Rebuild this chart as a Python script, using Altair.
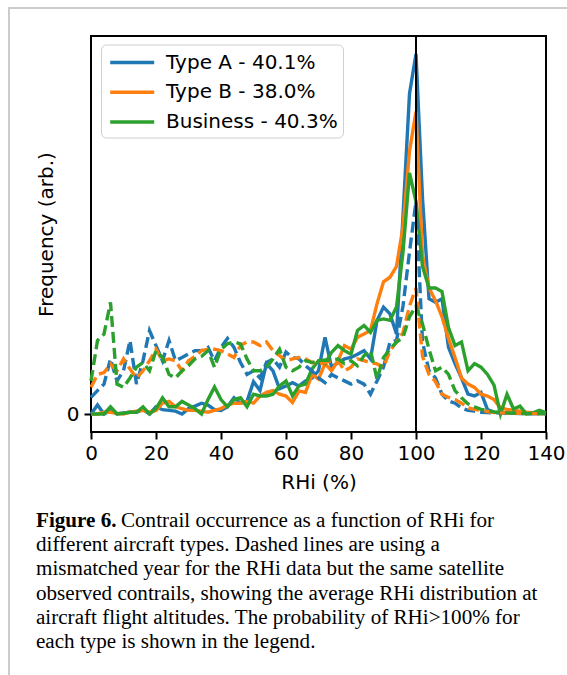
import altair as alt
import pandas as pd

# ---------------- data ----------------
rhi = list(range(0, 141, 2))
series_labels = ["Type A - 40.1%", "Type B - 38.0%", "Business - 40.3%"]
series_colors = ["#1f77b4", "#ff7f0e", "#2ca02c"]

type_a = [0.0, 0.025, 0.0, 0.01, 0.0, 0.003, 0.005, 0.005, 0.012, 0.0,
          0.02, 0.012, 0.01, 0.008, 0.0, 0.015, 0.022, 0.03, 0.025, 0.012,
          0.01, 0.02, 0.045, 0.03, 0.035, 0.09, 0.065, 0.14, 0.12, 0.07,
          0.078, 0.087, 0.078, 0.092, 0.1, 0.12, 0.213, 0.13, 0.143, 0.153,
          0.157, 0.166, 0.176, 0.153, 0.26, 0.297, 0.278, 0.222, 0.55, 0.89,
          1.0, 0.6, 0.32, 0.31, 0.32, 0.185, 0.14, 0.1, 0.055, 0.05,
          0.06, 0.012, 0.005, 0.004, 0.003, 0.002, 0.002, 0.001, 0.001, 0.001,
          0.001]
type_b = [0.0, 0.0, 0.005, 0.005, 0.002, 0.0, 0.005, 0.008, 0.01, 0.005,
          0.01, 0.03, 0.035, 0.02, 0.015, 0.01, 0.01, 0.008, 0.005, 0.01,
          0.015, 0.025, 0.03, 0.03, 0.035, 0.03, 0.05, 0.06, 0.065, 0.055,
          0.05, 0.032, 0.064, 0.06, 0.11, 0.097, 0.14, 0.12, 0.148, 0.19,
          0.18, 0.213, 0.222, 0.232, 0.306, 0.367, 0.38, 0.41, 0.52, 0.73,
          0.84, 0.44, 0.35, 0.315, 0.27, 0.21, 0.157, 0.1, 0.083, 0.074,
          0.055, 0.05, 0.04, 0.017, 0.013, 0.01, 0.008, 0.005, 0.003, 0.002,
          0.001]
business = [0.0, 0.0, 0.0, 0.02, 0.0, 0.002, 0.005, 0.005, 0.02, 0.0,
            0.015, 0.045, 0.02, 0.02, 0.035, 0.025, 0.015, 0.0, 0.04, 0.075,
            0.04, 0.02, 0.04, 0.045, 0.02, 0.055, 0.05, 0.05, 0.055, 0.078,
            0.092, 0.05, 0.078, 0.083, 0.125, 0.148, 0.14, 0.171, 0.19, 0.176,
            0.166, 0.232, 0.246, 0.227, 0.26, 0.264, 0.26, 0.297, 0.45, 0.67,
            0.59, 0.41, 0.35, 0.35, 0.34, 0.24, 0.19, 0.2, 0.12, 0.14,
            0.13, 0.11, 0.08, 0.0, 0.055, 0.014, 0.022, 0.0, 0.003, 0.01,
            0.003]
type_a_mismatch = [0.046, 0.065, 0.083, 0.153, 0.092, 0.12, 0.204, 0.083, 0.148, 0.232,
                   0.19, 0.148, 0.204, 0.148, 0.157, 0.167, 0.176, 0.176, 0.185, 0.148,
                   0.185, 0.21, 0.185, 0.143, 0.11, 0.12, 0.1, 0.143, 0.153, 0.13,
                   0.172, 0.157, 0.153, 0.134, 0.12, 0.1, 0.087, 0.11, 0.1, 0.092,
                   0.083, 0.092, 0.083, 0.055, 0.092, 0.13, 0.2, 0.204, 0.3, 0.45,
                   0.59, 0.2, 0.12, 0.1, 0.055, 0.036, 0.03, 0.017, 0.01, 0.008,
                   0.005, 0.004, 0.003, 0.003, 0.002, 0.002, 0.001, 0.001, 0.001, 0.001,
                   0.001]
type_b_mismatch = [0.074, 0.11, 0.115, 0.139, 0.12, 0.153, 0.125, 0.1, 0.12, 0.148,
                   0.18, 0.148, 0.153, 0.148, 0.12, 0.148, 0.16, 0.176, 0.18, 0.18,
                   0.176, 0.167, 0.157, 0.19, 0.2, 0.2, 0.19, 0.2, 0.176, 0.162,
                   0.148, 0.153, 0.157, 0.153, 0.143, 0.139, 0.143, 0.148, 0.148, 0.12,
                   0.13, 0.153, 0.148, 0.143, 0.139, 0.13, 0.176, 0.2, 0.226, 0.3,
                   0.35, 0.16, 0.11, 0.09, 0.055, 0.046, 0.04, 0.03, 0.017, 0.013,
                   0.01, 0.007, 0.004, 0.003, 0.003, 0.002, 0.002, 0.001, 0.001, 0.001,
                   0.001]
business_mismatch = [0.092, 0.204, 0.222, 0.31, 0.083, 0.074, 0.1, 0.13, 0.143, 0.12,
                     0.176, 0.157, 0.11, 0.1, 0.12, 0.134, 0.153, 0.16, 0.176, 0.13,
                     0.18, 0.195, 0.2, 0.195, 0.153, 0.12, 0.12, 0.13, 0.153, 0.18,
                     0.13, 0.12, 0.13, 0.148, 0.143, 0.148, 0.15, 0.148, 0.153, 0.14,
                     0.148, 0.134, 0.162, 0.176, 0.097, 0.157, 0.18, 0.2, 0.213, 0.27,
                     0.3, 0.25, 0.18, 0.12, 0.13, 0.11, 0.065, 0.045, 0.028, 0.02,
                     0.013, 0.01, 0.006, 0.004, 0.003, 0.002, 0.002, 0.001, 0.001, 0.001,
                     0.001]

x_ticks = [0, 20, 40, 60, 80, 100, 120, 140]
y_ticks = [0]

caption_bold = "Figure 6."
caption_line1 = "Contrail occurrence as a function of RHi for"
caption_rest = ("different aircraft types. Dashed lines are using a\n"
                "mismatched year for the RHi data but the same satellite\n"
                "observed contrails, showing the average RHi distribution at\n"
                "aircraft flight altitudes. The probability of RHi>100% for\n"
                "each type is shown in the legend.")

# ---------------- tables ----------------
def make_df(series_list):
    rows = []
    for lab, vals in zip(series_labels, series_list):
        for x, v in zip(rhi, vals):
            rows.append({"RHi": x, "freq": v, "type": lab})
    return pd.DataFrame(rows)

solid_df = make_df([type_a, type_b, business])
dash_df = make_df([type_a_mismatch, type_b_mismatch, business_mismatch])

FS = 20
LW = 3.4
color_scale = alt.Scale(domain=series_labels, range=series_colors)
x_enc = alt.X("RHi:Q", scale=alt.Scale(domain=[0, 140], nice=False),
              axis=alt.Axis(values=x_ticks, title="RHi (%)", labelPadding=4,
                            labelFlush=False, titlePadding=9))
y_enc = alt.Y("freq:Q", scale=alt.Scale(domain=[-0.05, 1.05], nice=False, zero=False),
              axis=alt.Axis(values=y_ticks, format=".0f", title="Frequency (arb.)",
                            labelPadding=5, titlePadding=10))

solid = alt.Chart(solid_df).mark_line(strokeWidth=LW).encode(
    x=x_enc, y=y_enc,
    color=alt.Color("type:N", scale=color_scale, sort=series_labels,
                    legend=alt.Legend(title=None, orient="none", legendX=10, legendY=8.5,
                                      symbolType="M-0.8,0H3.2", symbolSize=484,
                                      symbolStrokeWidth=3.5, labelFontSize=FS,
                                      labelFont="DejaVu Sans", labelColor="black",
                                      labelLimit=400,
                                      labelOffset=34, rowPadding=6.7, padding=5,
                                      strokeColor="#d0d0d0", fillColor="white",
                                      cornerRadius=5))
)

dashed = alt.Chart(dash_df).mark_line(strokeWidth=LW, strokeDash=[11, 5]).encode(
    x="RHi:Q", y="freq:Q",
    color=alt.Color("type:N", scale=color_scale, legend=None)
)

vline = alt.Chart(alt.Data(values=[{"v": 100}])).mark_rule(
    color="black", strokeWidth=2).encode(x="v:Q")

blank = alt.Data(values=[{}])
frame_v = alt.Chart(blank).mark_rule(color="#cccccc", strokeWidth=2).encode(
    x=alt.value(-82), y=alt.value(-28), y2=alt.value(640))
frame_h = alt.Chart(blank).mark_rule(color="#cccccc", strokeWidth=2).encode(
    x=alt.value(-83), x2=alt.value(480), y=alt.value(-28))

CFS = 21.1
cap_b = alt.Chart(blank).mark_text(
    text=caption_bold, font="Liberation Serif", fontSize=CFS, fontWeight="bold",
    align="left", baseline="alphabetic", color="black").encode(
    x=alt.value(-55), y=alt.value(491))
cap_1 = alt.Chart(blank).mark_text(
    text=caption_line1, font="Liberation Serif", fontSize=CFS,
    align="left", baseline="alphabetic", color="black").encode(
    x=alt.value(30), y=alt.value(491))
cap_r = alt.Chart(blank).mark_text(
    text=caption_rest, font="Liberation Serif", fontSize=CFS, lineBreak="\n",
    lineHeight=24.2, align="left", baseline="alphabetic", color="black").encode(
    x=alt.value(-55), y=alt.value(515.2))

chart = alt.layer(solid, dashed, vline, frame_v, frame_h, cap_b, cap_1, cap_r).properties(
    width=455, height=396,
    autosize=alt.AutoSizeParams(type="none"),
    padding={"left": 91, "top": 36, "right": 21, "bottom": 243},
    background="white",
).configure_view(
    stroke="black", strokeWidth=2
).configure_axis(
    domain=False, grid=False, tickColor="black", tickWidth=2, tickSize=7,
    labelFont="DejaVu Sans", labelFontSize=FS, labelColor="black",
    titleFont="DejaVu Sans", titleFontSize=FS, titleFontWeight="normal",
    titleColor="black"
)

chart.save("out.html", embed_options={"renderer": "svg", "actions": False})
